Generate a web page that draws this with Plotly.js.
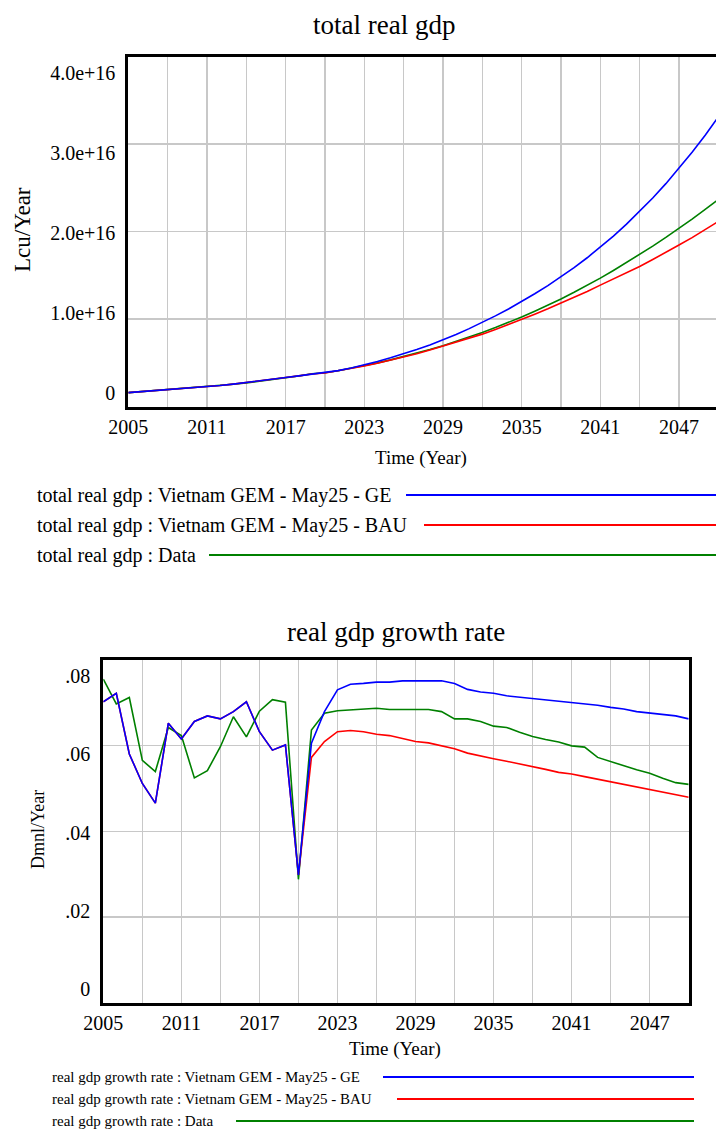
<!DOCTYPE html>
<html><head><meta charset="utf-8">
<script src="https://cdn.plot.ly/plotly-3.0.1.min.js"></script>
<style>html,body{margin:0;padding:0;overflow:hidden;background:#fff}#chart{width:720px;height:1131px}</style>
</head><body><div id="chart"></div><script>
// ---------- data ----------
const years = [2005,2006,2007,2008,2009,2010,2011,2012,2013,2014,2015,2016,2017,2018,2019,2020,2021,2022,2023,2024,2025,2026,2027,2028,2029,2030,2031,2032,2033,2034,2035,2036,2037,2038,2039,2040,2041,2042,2043,2044,2045,2046,2047,2048,2049,2050];

const gdpGE = [1.59e15,1.705e15,1.804e15,1.896e15,1.985e15,2.114e15,2.245e15,2.392e15,2.553e15,2.722e15,2.907e15,3.112e15,3.309e15,3.504e15,3.715e15,3.85e15,4.10e15,4.41e15,4.76e15,5.15e15,5.57e15,6.02e15,6.51e15,7.04e15,7.61e15,8.23e15,8.90e15,9.61e15,10.36e15,11.15e15,11.98e15,12.88e15,13.81e15,14.81e15,15.87e15,17.00e15,18.20e15,19.48e15,20.84e15,22.29e15,23.83e15,25.47e15,27.20e15,29.05e15,31.00e15,33.10e15];
const gdpBAU = [1.59e15,1.705e15,1.804e15,1.896e15,1.985e15,2.114e15,2.245e15,2.392e15,2.553e15,2.722e15,2.907e15,3.112e15,3.309e15,3.504e15,3.715e15,3.83e15,4.07e15,4.34e15,4.63e15,4.94e15,5.28e15,5.64e15,6.03e15,6.45e15,6.90e15,7.34e15,7.80e15,8.27e15,8.80e15,9.36e15,9.95e15,10.55e15,11.17e15,11.80e15,12.46e15,13.15e15,13.87e15,14.55e15,15.25e15,16.00e15,16.80e15,17.60e15,18.45e15,19.30e15,20.20e15,21.15e15];
const gdpData = [1.59e15,1.70e15,1.822e15,1.925e15,2.029e15,2.159e15,2.294e15,2.414e15,2.545e15,2.697e15,2.877e15,3.056e15,3.264e15,3.495e15,3.740e15,3.849e15,4.094e15,4.371e15,4.669e15,4.988e15,5.330e15,5.697e15,6.087e15,6.504e15,6.949e15,7.425e15,7.930e15,8.456e15,9.016e15,9.609e15,10.23e15,10.89e15,11.57e15,12.29e15,13.05e15,13.84e15,14.67e15,15.55e15,16.44e15,17.36e15,18.32e15,19.32e15,20.35e15,21.42e15,22.52e15,23.67e15];

const growthGE = [0.0703,0.0723,0.0581,0.0512,0.0466,0.0653,0.0616,0.0657,0.0670,0.0663,0.0680,0.0703,0.0633,0.0590,0.0602,0.0298,0.0606,0.0680,0.0731,0.0744,0.0746,0.0749,0.0749,0.0752,0.0752,0.0752,0.0752,0.0746,0.0732,0.0726,0.0723,0.0717,0.0714,0.0710,0.0707,0.0704,0.0701,0.0698,0.0695,0.0690,0.0686,0.0680,0.0677,0.0673,0.0670,0.0663];
const growthBAU = [0.0703,0.0723,0.0581,0.0512,0.0466,0.0653,0.0616,0.0657,0.0670,0.0663,0.0680,0.0703,0.0633,0.0590,0.0602,0.0298,0.0573,0.0610,0.0633,0.0636,0.0633,0.0627,0.0624,0.0617,0.0610,0.0607,0.0600,0.0593,0.0583,0.0576,0.0570,0.0564,0.0558,0.0551,0.0545,0.0538,0.0534,0.0528,0.0522,0.0516,0.0510,0.0505,0.0498,0.0492,0.0486,0.0480];
const growthData = [0.0756,0.0698,0.0713,0.0566,0.0540,0.0643,0.0624,0.0525,0.0542,0.0598,0.0668,0.0621,0.0681,0.0708,0.0702,0.0288,0.0637,0.0676,0.0682,0.0684,0.0685,0.0688,0.0685,0.0685,0.0685,0.0685,0.0680,0.0663,0.0663,0.0657,0.0646,0.0643,0.0632,0.0622,0.0615,0.0609,0.0600,0.0597,0.0573,0.0563,0.0553,0.0544,0.0536,0.0524,0.0514,0.0510];

const gdpTickVals = [0,1e16,2e16,3e16,4e16];
const gdpTickText = ['0','1.0e+16','2.0e+16','3.0e+16','4.0e+16'];
const rateTickVals = [0,0.02,0.04,0.06,0.08];
const rateTickText = ['0','.02','.04','.06','.08'];

const topLegend = ['total real gdp : Vietnam GEM - May25 - GE','total real gdp : Vietnam GEM - May25 - BAU','total real gdp : Data'];
const botLegend = ['real gdp growth rate : Vietnam GEM - May25 - GE','real gdp growth rate : Vietnam GEM - May25 - BAU','real gdp growth rate : Data'];

// ---------- styling / layout ----------
const W = 720, H = 1131;
const px = v => v / W, py = v => 1 - v / H;
const BLUE = '#0000ff', RED = '#ff0000', GREEN = '#008000', GRID = '#c8c8c8';
const FONT = 'Liberation Serif, Times New Roman, serif';

const line = (c) => ({color: c, width: 1.6});
const traces = [
  {x: years, y: gdpData, xaxis: 'x', yaxis: 'y', mode: 'lines', line: line(GREEN), hoverinfo: 'skip'},
  {x: years, y: gdpBAU, xaxis: 'x', yaxis: 'y', mode: 'lines', line: line(RED), hoverinfo: 'skip'},
  {x: years, y: gdpGE, xaxis: 'x', yaxis: 'y', mode: 'lines', line: line(BLUE), hoverinfo: 'skip'},
  {x: years, y: growthData, xaxis: 'x2', yaxis: 'y2', mode: 'lines', line: line(GREEN), hoverinfo: 'skip'},
  {x: years, y: growthBAU, xaxis: 'x2', yaxis: 'y2', mode: 'lines', line: line(RED), hoverinfo: 'skip'},
  {x: years, y: growthGE, xaxis: 'x2', yaxis: 'y2', mode: 'lines', line: line(BLUE), hoverinfo: 'skip'},
  // empty traces so the overlaid label axes are registered
  {x: [], y: [], xaxis: 'x', yaxis: 'y3', mode: 'lines', hoverinfo: 'skip'},
  {x: [], y: [], xaxis: 'x2', yaxis: 'y4', mode: 'lines', hoverinfo: 'skip'}
];

function xAxis(dom, anchor) {
  return {domain: dom, anchor: anchor, range: [2005, 2050], tickmode: 'linear', tick0: 2005, dtick: 6,
    showgrid: true, gridcolor: GRID, gridwidth: 1.2,
    minor: {tick0: 2005, dtick: 3, showgrid: true, gridcolor: GRID, gridwidth: 1.2, ticks: ''},
    showline: true, linecolor: '#000', linewidth: 3, mirror: true, ticks: '', zeroline: false,
    tickfont: {family: FONT, size: 20, color: '#000'}, ticklabelstandoff: 0};
}
function yAxis(dom, anchor, range, dtick) {
  return {domain: dom, anchor: anchor, range: range, tickmode: 'linear', tick0: 0, dtick: dtick,
    showgrid: true, gridcolor: GRID, gridwidth: 1.2, showticklabels: false,
    showline: true, linecolor: '#000', linewidth: 3, mirror: true, ticks: '', zeroline: false};
}
function labelAxis(over, anchor, range, vals, text) {
  return {overlaying: over, anchor: anchor, side: 'left', range: range, tickmode: 'array', tickvals: vals, ticktext: text,
    showgrid: false, zeroline: false, showline: false, ticks: '',
    tickfont: {family: FONT, size: 20, color: '#000'}, ticklabelstandoff: 12};
}

const topY = [py(406.5), py(56.5)];
const botY = [py(1002.5), py(660.3)];

const annotations = [];
function ann(text, x, y, size, opts) {
  annotations.push(Object.assign({text: text, x: px(x), y: py(y), xref: 'paper', yref: 'paper', showarrow: false,
    font: {family: FONT, size: size, color: '#000'}, xanchor: 'center', yanchor: 'middle'}, opts || {}));
}
ann('total real gdp', 383.5, 25, 27);
ann('real gdp growth rate', 396, 632, 27);
ann('Time (Year)', 421, 458, 19);
ann('Time (Year)', 395, 1049, 19);
ann('Lcu/Year', 22, 230, 23, {textangle: -90});
ann('Dmnl/Year', 38, 830, 18, {textangle: -90});

const shapes = [];
const legColors = [BLUE, RED, GREEN];
const topLegY = [495, 525, 555], topLegX0 = [406, 424, 209];
const botLegY = [1077, 1099, 1121], botLegX0 = [383, 397, 236];
for (let i = 0; i < 3; i++) {
  ann(topLegend[i], 35, topLegY[i], 20, {xanchor: 'left'});
  ann(botLegend[i], 50, botLegY[i], 15, {xanchor: 'left'});
  shapes.push({type: 'line', xref: 'paper', yref: 'paper', x0: px(topLegX0[i]), x1: px(716), y0: py(topLegY[i]), y1: py(topLegY[i]), line: {color: legColors[i], width: 1.8}});
  shapes.push({type: 'line', xref: 'paper', yref: 'paper', x0: px(botLegX0[i]), x1: px(694), y0: py(botLegY[i]), y1: py(botLegY[i]), line: {color: legColors[i], width: 1.8}});
}

const layout = {
  width: W, height: H, margin: {l: 0, r: 0, t: 0, b: 0}, paper_bgcolor: '#fff', plot_bgcolor: '#fff',
  showlegend: false, font: {family: FONT, color: '#000'},
  xaxis: xAxis([px(128.3), px(718.3)], 'y'),
  yaxis: yAxis(topY, 'x', [0, 4e16], 1e16),
  yaxis3: labelAxis('y', 'x', [-0.1727e16, 4.2064e16], gdpTickVals, gdpTickText),
  xaxis2: xAxis([px(103.3), px(688.7)], 'y2'),
  yaxis2: yAxis(botY, 'x2', [0, 0.08], 0.02),
  yaxis4: labelAxis('y2', 'x2', [-0.00345, 0.08401], rateTickVals, rateTickText),
  annotations: annotations, shapes: shapes
};

Plotly.newPlot('chart', traces, layout, {displayModeBar: false, staticPlot: true});
</script></body></html>
